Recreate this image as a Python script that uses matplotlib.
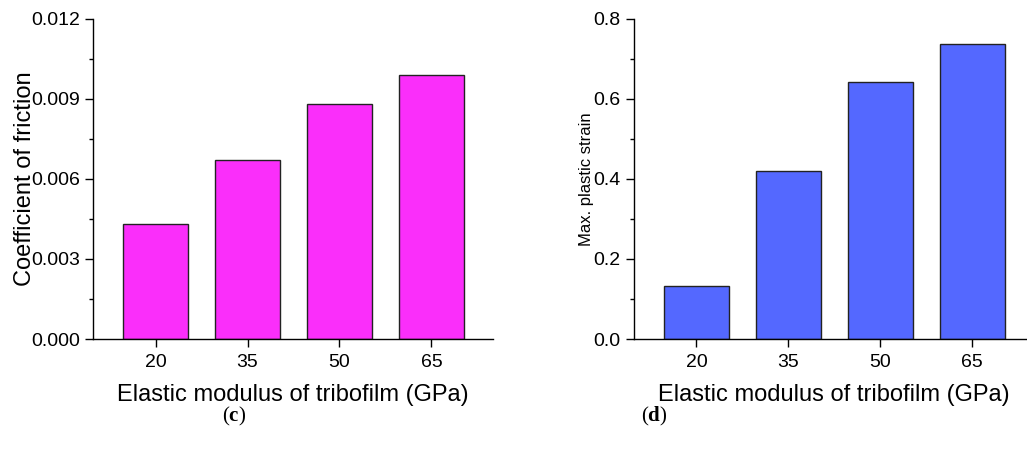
import matplotlib
matplotlib.use("Agg")
import matplotlib.pyplot as plt
from matplotlib.ticker import MultipleLocator

plt.rcParams['font.family'] = ['Liberation Sans', 'DejaVu Sans']
plt.rcParams['mathtext.fontset'] = 'custom'
plt.rcParams['mathtext.rm'] = 'Liberation Serif'
plt.rcParams['mathtext.bf'] = 'Liberation Serif:bold'

# datos
modulus = ['20', '35', '50', '65']
friction = [0.0043, 0.0067, 0.0088, 0.0099]
plastic_strain = [0.132, 0.421, 0.643, 0.738]

x = list(range(len(modulus)))

fig = plt.figure(figsize=(10.27, 4.70), dpi=100)
ax1 = fig.add_axes([0.0906, 0.2787, 0.3895, 0.681])
ax2 = fig.add_axes([0.6173, 0.2787, 0.3895, 0.681])


def style(ax):
    for s in ['top', 'right']:
        ax.spines[s].set_visible(False)
    for s in ['left', 'bottom']:
        ax.spines[s].set_linewidth(1.0)
    ax.set_xticks(x)
    ax.set_xticklabels(modulus)
    ax.set_xlim(-0.68, 3.67)
    ax.tick_params(axis='both', which='major', direction='out', length=6,
                   width=1, labelsize=14)
    ax.tick_params(axis='y', which='minor', direction='out', length=3, width=1)
    ax.tick_params(axis='x', which='major', pad=5)
    ax.set_xlabel('Elastic modulus of tribofilm (GPa)', fontsize=17, labelpad=9)


ax1.bar(x, friction, width=0.7, color='#FA2EFA', edgecolor='#222222', linewidth=1)
style(ax1)
ax1.set_ylim(0, 0.012)
ax1.yaxis.set_major_locator(MultipleLocator(0.003))
ax1.yaxis.set_minor_locator(MultipleLocator(0.0015))
ax1.yaxis.set_major_formatter(plt.FormatStrFormatter('%.3f'))
ax1.set_ylabel('Coefficient of friction', fontsize=17)
ax1.yaxis.set_label_coords(-0.143, 0.5)

ax2.bar(x, plastic_strain, width=0.7, color='#5468FF', edgecolor='#222222', linewidth=1)
style(ax2)
ax2.set_ylim(0, 0.8)
ax2.yaxis.set_major_locator(MultipleLocator(0.2))
ax2.yaxis.set_minor_locator(MultipleLocator(0.1))
ax2.yaxis.set_major_formatter(plt.FormatStrFormatter('%.1f'))
ax2.set_ylabel('Max. plastic strain', fontsize=12)
ax2.yaxis.set_label_coords(-0.1, 0.5)

fig.text(234 / 1027, 1 - 416 / 470, r'($\mathbf{c}$)', ha='center', va='center',
         fontsize=15, family='Liberation Serif')
fig.text(654 / 1027, 1 - 416 / 470, r'($\mathbf{d}$)', ha='center', va='center',
         fontsize=15, family='Liberation Serif')

fig.savefig('out.png', dpi=100)
